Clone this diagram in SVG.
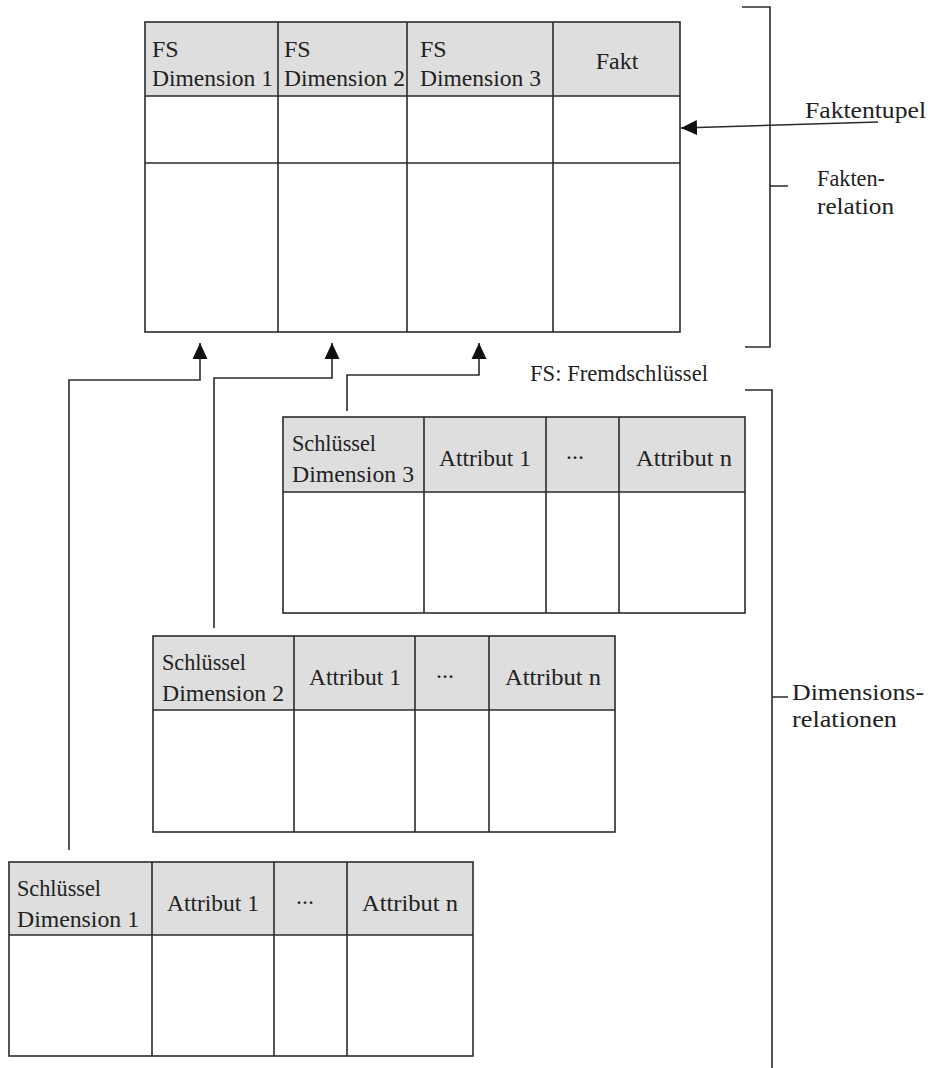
<svg xmlns="http://www.w3.org/2000/svg" width="930" height="1068" viewBox="0 0 930 1068">
<style>
  .hdr { fill: #dedede; stroke: none; }
  .ln { fill: none; stroke: #2b2b2b; stroke-width: 1.6; }
  .t { font-family: "Liberation Serif", "DejaVu Serif", serif; font-size: 24px; fill: #222; }
  .c { text-anchor: middle; }
</style>
<defs>
  <marker id="arr" viewBox="0 0 16 16" markerWidth="16" markerHeight="16" markerUnits="userSpaceOnUse" refX="16" refY="8" orient="auto">
    <path d="M0,0.5 L16,8 L0,15.5 z" fill="#111"/>
  </marker>
</defs>
<rect width="930" height="1068" fill="#ffffff"/>

<g id="faktenrelation">
  <rect class="hdr" x="145" y="22" width="535" height="74"/>
  <rect class="ln" x="145" y="22" width="535" height="310"/>
  <path class="ln" d="M145,96 H680 M145,163 H680 M278,22 V332 M407,22 V332 M553,22 V332"/>
  <text class="t" x="152" y="57">FS</text>
  <text class="t" x="152" y="86" textLength="121" lengthAdjust="spacingAndGlyphs">Dimension 1</text>
  <text class="t" x="284" y="57">FS</text>
  <text class="t" x="284" y="86" textLength="121" lengthAdjust="spacingAndGlyphs">Dimension 2</text>
  <text class="t" x="420" y="57">FS</text>
  <text class="t" x="420" y="86" textLength="121" lengthAdjust="spacingAndGlyphs">Dimension 3</text>
  <text class="t c" x="617" y="69">Fakt</text>
</g>

<g id="dimension3">
  <rect class="hdr" x="283" y="417" width="462" height="75"/>
  <rect class="ln" x="283" y="417" width="462" height="196"/>
  <path class="ln" d="M283,492 H745 M424,417 V613 M546,417 V613 M619,417 V613"/>
  <text class="t" x="292" y="451" textLength="84" lengthAdjust="spacingAndGlyphs">Schlüssel</text>
  <text class="t" x="292" y="482" textLength="122" lengthAdjust="spacingAndGlyphs">Dimension 3</text>
  <text class="t c" x="485" y="466" textLength="92" lengthAdjust="spacingAndGlyphs">Attribut 1</text>
  <text class="t c" x="575" y="459">...</text>
  <text class="t c" x="684" y="466" textLength="96" lengthAdjust="spacingAndGlyphs">Attribut n</text>
</g>

<g id="dimension2">
  <rect class="hdr" x="153" y="636" width="462" height="74"/>
  <rect class="ln" x="153" y="636" width="462" height="196"/>
  <path class="ln" d="M153,710 H615 M294,636 V832 M415,636 V832 M489,636 V832"/>
  <text class="t" x="162" y="670" textLength="84" lengthAdjust="spacingAndGlyphs">Schlüssel</text>
  <text class="t" x="162" y="701" textLength="122" lengthAdjust="spacingAndGlyphs">Dimension 2</text>
  <text class="t c" x="355" y="685" textLength="92" lengthAdjust="spacingAndGlyphs">Attribut 1</text>
  <text class="t c" x="445" y="678">...</text>
  <text class="t c" x="553" y="685" textLength="96" lengthAdjust="spacingAndGlyphs">Attribut n</text>
</g>

<g id="dimension1">
  <rect class="hdr" x="9" y="862" width="464" height="73"/>
  <rect class="ln" x="9" y="862" width="464" height="194"/>
  <path class="ln" d="M9,935 H473 M152,862 V1056 M274,862 V1056 M347,862 V1056"/>
  <text class="t" x="17" y="896" textLength="84" lengthAdjust="spacingAndGlyphs">Schlüssel</text>
  <text class="t" x="17" y="927" textLength="122" lengthAdjust="spacingAndGlyphs">Dimension 1</text>
  <text class="t c" x="213" y="911" textLength="92" lengthAdjust="spacingAndGlyphs">Attribut 1</text>
  <text class="t c" x="305" y="904">...</text>
  <text class="t c" x="410" y="911" textLength="96" lengthAdjust="spacingAndGlyphs">Attribut n</text>
</g>

<g id="connectors">
  <path class="ln" d="M69,850 V380 H200 V343" marker-end="url(#arr)"/>
  <path class="ln" d="M214,628 V378 H332 V343" marker-end="url(#arr)"/>
  <path class="ln" d="M347,411 V375 H479 V343" marker-end="url(#arr)"/>
  <path class="ln" d="M878,122 L681,128" marker-end="url(#arr)"/>
</g>

<g id="brackets">
  <path class="ln" d="M742,7 H770 V347 H745 M770,186 H788"/>
  <path class="ln" d="M745,390 H772 V1068 M772,697 H788"/>
</g>

<g id="labels">
  <text class="t" x="805" y="118" textLength="121" lengthAdjust="spacingAndGlyphs">Faktentupel</text>
  <text class="t" x="817" y="186" textLength="68" lengthAdjust="spacingAndGlyphs">Fakten-</text>
  <text class="t" x="817" y="214" textLength="77" lengthAdjust="spacingAndGlyphs">relation</text>
  <text class="t" x="530" y="381" textLength="178" lengthAdjust="spacingAndGlyphs">FS: Fremdschlüssel</text>
  <text class="t" x="792" y="700" textLength="132" lengthAdjust="spacingAndGlyphs">Dimensions-</text>
  <text class="t" x="792" y="727" textLength="105" lengthAdjust="spacingAndGlyphs">relationen</text>
</g>
</svg>
